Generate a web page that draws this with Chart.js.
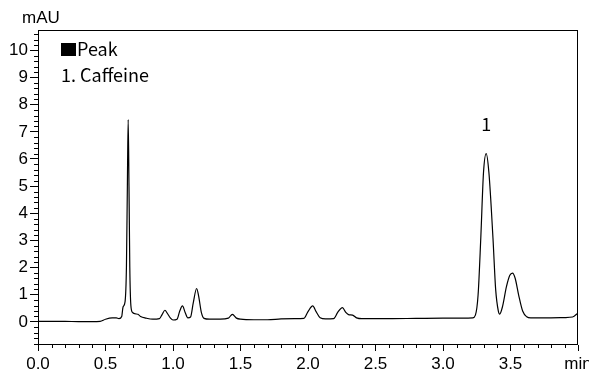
<!DOCTYPE html>
<html>
<head>
<meta charset="utf-8">
<script src="https://cdn.jsdelivr.net/npm/chart.js@4.4.1/dist/chart.umd.min.js"></script>
<style>
  body { margin: 0; background: #fff; }
  canvas { display: block; }
</style>
</head>
<body>
<canvas id="chrom" width="589" height="376"></canvas>
<script>
// retention time (min) and detector signal (mAU)
const times = [
  0.00, 0.10, 0.20, 0.30, 0.40, 0.46, 0.50, 0.55, 0.58, 0.60,
  0.62, 0.63, 0.645, 0.655, 0.662, 0.668, 0.674, 0.680, 0.688, 0.70,
  0.72, 0.74, 0.76, 0.80, 0.85, 0.90, 0.92, 0.94, 0.96, 0.98,
  1.00, 1.03, 1.05, 1.07, 1.09, 1.11, 1.13, 1.15, 1.175, 1.19,
  1.21, 1.23, 1.27, 1.35, 1.41, 1.44, 1.47, 1.50, 1.60, 1.70,
  1.80, 1.90, 1.97, 2.00, 2.035, 2.06, 2.09, 2.13, 2.19, 2.22,
  2.255, 2.28, 2.30, 2.33, 2.36, 2.40, 2.60, 2.80, 3.00, 3.15,
  3.22, 3.24, 3.26, 3.28, 3.30, 3.32, 3.34, 3.37, 3.39, 3.41,
  3.42, 3.44, 3.47, 3.495, 3.515, 3.535, 3.56, 3.59, 3.62, 3.65,
  3.80, 3.90, 3.96, 4.00
];
const absorbance = [
  0.02, 0.02, 0.02, 0.01, 0.01, 0.02, 0.10, 0.15, 0.15, 0.12,
  0.20, 0.55, 0.75, 2.0, 5.0, 7.45, 5.0, 2.0, 0.6, 0.35,
  0.30, 0.28, 0.20, 0.14, 0.10, 0.12, 0.28, 0.43, 0.30, 0.15,
  0.07, 0.10, 0.40, 0.59, 0.35, 0.15, 0.18, 0.70, 1.23, 0.95,
  0.35, 0.13, 0.10, 0.10, 0.14, 0.28, 0.14, 0.10, 0.08, 0.08,
  0.11, 0.12, 0.13, 0.38, 0.59, 0.38, 0.15, 0.11, 0.12, 0.35,
  0.53, 0.35, 0.27, 0.25, 0.15, 0.12, 0.12, 0.13, 0.14, 0.14,
  0.15, 0.25, 1.0, 3.1, 5.5, 6.2, 5.5, 3.1, 1.2, 0.4,
  0.29, 0.55, 1.3, 1.72, 1.80, 1.60, 1.0, 0.4, 0.19, 0.15,
  0.15, 0.16, 0.18, 0.33
];

const xTickValues = [0.0, 0.5, 1.0, 1.5, 2.0, 2.5, 3.0, 3.5, 4.0];
const yTickValues = [0, 1, 2, 3, 4, 5, 6, 7, 8, 9, 10];
const peakNames = ['1'];
const peakTimes = [3.32];
const legendLines = ['Peak', '1. Caffeine'];

const tickFont = { family: '"Liberation Sans", Arial, sans-serif', size: 17 };
const noteFont = '18px "Noto Sans CJK JP", "Noto Sans", sans-serif';

// minor ticks, outer frame, axis unit, legend and peak labels
const decorations = {
  id: 'decorations',
  afterDraw(chart) {
    const { ctx, chartArea: a, scales: { x, y } } = chart;
    ctx.save();
    ctx.strokeStyle = '#000';
    ctx.lineWidth = 1;
    ctx.beginPath();
    for (let i = 0; i <= 40; i++) {
      if (i % 5 === 0) continue;
      const px = Math.round(x.getPixelForValue(i / 10)) + 0.5;
      ctx.moveTo(px, a.bottom);
      ctx.lineTo(px, a.bottom + 3);
    }
    for (let v = -4; v <= 53; v++) {
      if (v % 5 === 0) continue;
      const py = Math.round(y.getPixelForValue(v / 5)) + 0.5;
      ctx.moveTo(a.left, py);
      ctx.lineTo(a.left - 4, py);
    }
    ctx.stroke();
    ctx.strokeRect(a.left + 0.5, a.top + 0.5, a.right - a.left - 1, a.bottom - a.top - 1);

    ctx.fillStyle = '#000';
    ctx.font = '17px "Liberation Sans", Arial, sans-serif';
    ctx.textBaseline = 'alphabetic';
    ctx.textAlign = 'left';
    ctx.fillText('mAU', 22, 23);

    // legend box
    ctx.font = noteFont;
    ctx.fillRect(a.left + 23, a.top + 13, 15, 13);
    ctx.fillText(legendLines[0], a.left + 39, a.top + 26);
    ctx.fillText(legendLines[1], a.left + 23, a.top + 52);

    // peak numbers above the apex
    ctx.textAlign = 'center';
    ctx.textBaseline = 'middle';
    peakNames.forEach((name, k) => {
      let best = 0;
      times.forEach((t, i) => {
        if (Math.abs(t - peakTimes[k]) < 0.05 && absorbance[i] > best) best = absorbance[i];
      });
      ctx.fillText(name, x.getPixelForValue(peakTimes[k]), y.getPixelForValue(best) - 29);
    });
    ctx.restore();
  }
};

new Chart(document.getElementById('chrom'), {
  type: 'line',
  data: {
    datasets: [{
      data: times.map((t, i) => ({ x: t, y: absorbance[i] })),
      borderColor: '#000',
      borderWidth: 1.2,
      pointRadius: 0,
      cubicInterpolationMode: 'monotone',
      fill: false
    }]
  },
  options: {
    responsive: false,
    animation: false,
    layout: { padding: { top: 30, right: 11, left: 0, bottom: 0 } },
    plugins: { legend: { display: false }, tooltip: { enabled: false } },
    scales: {
      x: {
        type: 'linear',
        min: 0,
        max: 4,
        afterBuildTicks: s => { s.ticks = xTickValues.map(v => ({ value: v })); },
        afterFit: s => { s.height = 31; s.paddingLeft = 0; s.paddingRight = 0; },
        border: { display: false },
        grid: { drawOnChartArea: false, tickLength: 6, color: '#000' },
        ticks: {
          autoSkip: false,
          maxRotation: 0,
          padding: 3,
          color: '#000',
          font: tickFont,
          callback: v => (v === 4 ? 'min' : v.toFixed(1))
        }
      },
      y: {
        min: -0.85,
        max: 10.75,
        afterBuildTicks: s => { s.ticks = yTickValues.map(v => ({ value: v })); },
        afterFit: s => { s.width = 38; s.paddingTop = 0; s.paddingBottom = 0; },
        border: { display: false },
        grid: { drawOnChartArea: false, tickLength: 8, color: '#000' },
        ticks: { padding: 2, color: '#000', font: tickFont }
      }
    }
  },
  plugins: [decorations]
});
</script>
</body>
</html>
